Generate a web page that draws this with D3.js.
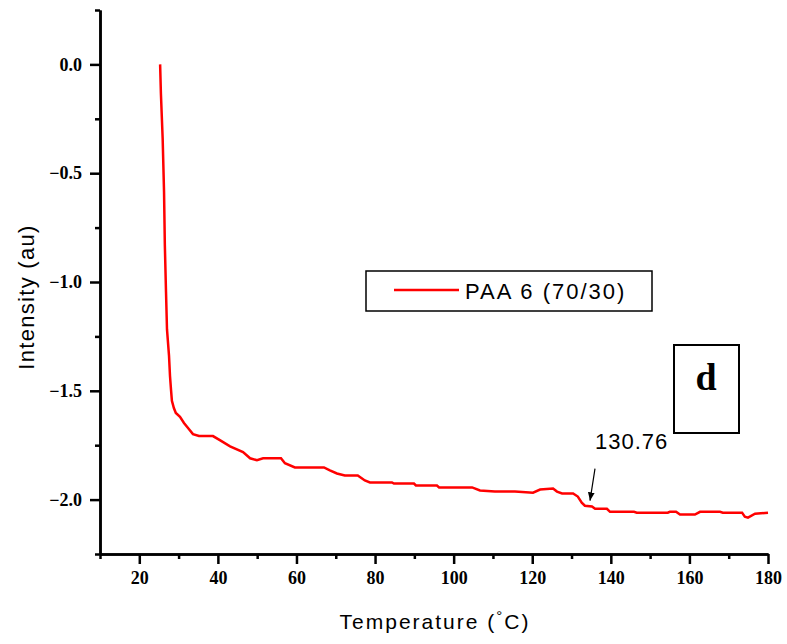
<!DOCTYPE html>
<html>
<head>
<meta charset="utf-8">
<script src="https://cdn.jsdelivr.net/npm/d3@7"></script>
<style>
  body { margin: 0; background: #fff; }
  svg { display: block; }
</style>
</head>
<body>
<div id="chart"></div>
<script>
// DSC-like trace for PAA 6 (70/30)
const temperature = [25.3, 25.5, 25.95, 26.3, 26.5, 26.8, 27.05, 27.56, 27.81, 28.07, 28.3, 28.8, 29.3, 30.36, 31.37, 32.4, 33.66, 35.2, 38.75, 40.5, 43.1, 46.4, 48.2, 49.95, 51.5, 56.06, 57.07, 59.6, 67.0, 68.5, 70.3, 72.3, 75.6, 77.4, 78.7, 84.3, 84.8, 89.9, 90.4, 95.75, 96.3, 104.7, 106.7, 110.5, 115.6, 120.2, 122.0, 125.3, 126.3, 127.6, 130.4, 131.6, 132.6, 133.4, 135.2, 136.0, 139.0, 139.8, 145.9, 146.6, 154.5, 155.0, 156.6, 157.6, 161.4, 162.7, 167.8, 168.5, 173.4, 174.1, 174.9, 176.7, 180.0];
const intensity = [0, -0.134, -0.343, -0.588, -0.829, -1.046, -1.218, -1.338, -1.431, -1.495, -1.546, -1.579, -1.602, -1.62, -1.648, -1.671, -1.699, -1.708, -1.708, -1.727, -1.755, -1.782, -1.81, -1.819, -1.81, -1.81, -1.833, -1.852, -1.852, -1.866, -1.88, -1.889, -1.889, -1.912, -1.921, -1.921, -1.926, -1.926, -1.935, -1.935, -1.944, -1.944, -1.958, -1.963, -1.963, -1.968, -1.954, -1.949, -1.963, -1.972, -1.972, -1.986, -2.014, -2.028, -2.032, -2.042, -2.042, -2.056, -2.056, -2.06, -2.06, -2.056, -2.056, -2.069, -2.069, -2.056, -2.056, -2.06, -2.06, -2.079, -2.083, -2.065, -2.06];

const xMajorTicks = [20, 40, 60, 80, 100, 120, 140, 160, 180];
const xMinorTicks = [10, 30, 50, 70, 90, 110, 130, 150, 170];
const yMajorTicks = [0.0, -0.5, -1.0, -1.5, -2.0];
const yMinorTicks = [0.25, -0.25, -0.75, -1.25, -1.75, -2.25];

const seriesName = "PAA 6 (70/30)";
const peakLabel = "130.76";
const peakPoint = { x: 134.7, y: -2.005 };
const panelLetter = "d";

const width = 787, height = 644;
const margin = { top: 10, right: 19, bottom: 90, left: 100 };

const svg = d3.select("#chart").append("svg")
    .attr("width", width)
    .attr("height", height);

const x = d3.scaleLinear()
    .domain([10, 180])
    .range([margin.left, width - margin.right]);

const y = d3.scaleLinear()
    .domain([-2.25, 0.25])
    .range([height - margin.bottom, margin.top]);

const tickFont = "'Liberation Serif', 'Times New Roman', serif";
const sansFont = "Arial, 'Liberation Sans', sans-serif";

function styleAxis(g) {
    g.select(".domain").attr("stroke", "#000").attr("stroke-width", 2.5);
    g.selectAll(".tick line").attr("stroke", "#000").attr("stroke-width", 2.5);
    g.selectAll(".tick text")
        .attr("fill", "#000")
        .style("font-family", tickFont)
        .style("font-weight", "bold")
        .style("font-size", "18px");
}

// x axis: major + minor
svg.append("g")
    .attr("transform", `translate(0, ${y(-2.25)})`)
    .call(d3.axisBottom(x).tickValues(xMinorTicks).tickSize(5).tickFormat("").tickSizeOuter(0))
    .call(styleAxis);
svg.append("g")
    .attr("transform", `translate(0, ${y(-2.25)})`)
    .call(d3.axisBottom(x).tickValues(xMajorTicks).tickSize(10).tickPadding(7).tickFormat(d3.format("d")).tickSizeOuter(0))
    .call(styleAxis);

// y axis: major + minor
svg.append("g")
    .attr("transform", `translate(${x(10)}, 0)`)
    .call(d3.axisLeft(y).tickValues(yMinorTicks).tickSize(5).tickFormat("").tickSizeOuter(0))
    .call(styleAxis);
svg.append("g")
    .attr("transform", `translate(${x(10)}, 0)`)
    .call(d3.axisLeft(y).tickValues(yMajorTicks).tickSize(10).tickPadding(8).tickFormat(d3.format(".1f")).tickSizeOuter(0))
    .call(styleAxis);

// data line
const data = temperature.map((t, i) => ({ t: t, v: intensity[i] }));
const line = d3.line()
    .x(d => x(d.t))
    .y(d => y(d.v));

svg.append("path")
    .datum(data)
    .attr("fill", "none")
    .attr("stroke", "#ff0000")
    .attr("stroke-width", 2.5)
    .attr("stroke-linejoin", "miter")
    .attr("d", line);

// axis titles
const xTitle = svg.append("text")
    .attr("x", 435)
    .attr("y", 629)
    .attr("text-anchor", "middle")
    .style("font-family", sansFont)
    .style("font-size", "21px")
    .style("letter-spacing", "2px")
    .attr("fill", "#000");
xTitle.append("tspan").text("Temperature (");
xTitle.append("tspan").attr("dy", -8).style("font-size", "15px").text("°");
xTitle.append("tspan").attr("dy", 8).text("C)");

svg.append("text")
    .attr("transform", "translate(34, 297) rotate(-90)")
    .attr("text-anchor", "middle")
    .style("font-family", sansFont)
    .style("font-size", "22px")
    .style("letter-spacing", "1.3px")
    .attr("fill", "#000")
    .text("Intensity (au)");

// legend
const legend = svg.append("g");
legend.append("rect")
    .attr("x", 366).attr("y", 271)
    .attr("width", 286).attr("height", 40)
    .attr("fill", "#fff")
    .attr("stroke", "#000")
    .attr("stroke-width", 1.5);
legend.append("line")
    .attr("x1", 394).attr("x2", 459)
    .attr("y1", 290).attr("y2", 290)
    .attr("stroke", "#ff0000")
    .attr("stroke-width", 2.5);
legend.append("text")
    .attr("x", 465).attr("y", 299)
    .style("font-family", sansFont)
    .style("font-size", "22px")
    .style("letter-spacing", "2px")
    .attr("fill", "#000")
    .text(seriesName);

// panel letter box
svg.append("rect")
    .attr("x", 674).attr("y", 345)
    .attr("width", 65).attr("height", 88)
    .attr("fill", "#fff")
    .attr("stroke", "#000")
    .attr("stroke-width", 2);
svg.append("text")
    .attr("x", 706).attr("y", 390)
    .attr("text-anchor", "middle")
    .style("font-family", tickFont)
    .style("font-weight", "bold")
    .style("font-size", "38px")
    .attr("fill", "#000")
    .text(panelLetter);

// peak annotation
svg.append("defs").append("marker")
    .attr("id", "arrow")
    .attr("viewBox", "0 0 10 10")
    .attr("refX", 10).attr("refY", 5)
    .attr("markerWidth", 7).attr("markerHeight", 7)
    .attr("orient", "auto")
    .append("path")
    .attr("d", "M0,1 L10,5 L0,9 Z")
    .attr("fill", "#000");

svg.append("line")
    .attr("x1", x(peakPoint.x) + 5).attr("y1", y(peakPoint.y) - 32)
    .attr("x2", x(peakPoint.x)).attr("y2", y(peakPoint.y))
    .attr("stroke", "#000")
    .attr("stroke-width", 1.2)
    .attr("marker-end", "url(#arrow)");

svg.append("text")
    .attr("x", 595).attr("y", 449)
    .style("font-family", sansFont)
    .style("font-size", "22px")
    .style("letter-spacing", "1px")
    .attr("fill", "#000")
    .text(peakLabel);
</script>
</body>
</html>
